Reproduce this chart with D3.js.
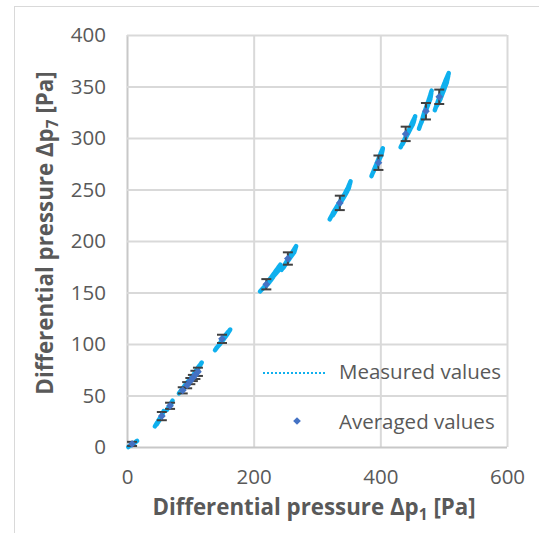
<!DOCTYPE html>
<html><head><meta charset="utf-8">
<script src="https://cdn.jsdelivr.net/npm/d3@7"></script>
<style>body{margin:0;background:#fff} text{font-family:"Open Sans",sans-serif}</style>
</head><body><svg id="c" width="539" height="533"></svg>
<script>
// ---- data ----
const xTicks = [0, 200, 400, 600];
const yTicks = [0, 50, 100, 150, 200, 250, 300, 350, 400];

// measured values (each cluster is a run of readings)
const measured0  = [[2,0],[6,2],[10,3],[14,5],[16,6],[12,4],[7,2],[4,1]];
const measured1  = [[44,20],[48,24],[52,28],[55,31],[58,35],[56,32],[51,26],[47,22]];
const measured2  = [[63,36],[66,39],[69,42],[72,45],[70,42],[66,38]];
const measured3  = [[82,52],[88,57],[94,62],[100,66],[106,71],[112,77],[118,82],[114,78],[108,72],[101,67],[95,62],[89,56],[84,53]];
const measured4  = [[139,94],[145,99],[150,104],[156,109],[163,114],[159,110],[153,105],[147,100],[141,96]];
const measured5  = [[210,151],[216,155],[222,160],[228,165],[235,171],[242,177],[240,172],[233,167],[226,161],[219,156],[213,153]];
const measured6  = [[244,172],[249,177],[254,182],[259,187],[264,192],[267,195],[264,189],[258,184],[252,179],[247,174]];
const measured7  = [[320,221],[326,228],[332,234],[338,240],[344,246],[349,252],[353,258],[350,251],[344,244],[337,237],[331,231],[325,225]];
const measured8  = [[386,263],[390,269],[394,275],[398,281],[401,286],[404,290],[402,284],[397,277],[392,271],[388,266]];
const measured9  = [[432,291],[437,297],[442,304],[447,310],[451,316],[455,321],[452,314],[446,307],[440,300],[435,294]];
const measured10 = [[461,309],[465,316],[469,324],[473,331],[477,338],[481,346],[479,338],[474,330],[469,321],[464,314]];
const measured11 = [[486,327],[490,334],[494,341],[498,348],[503,356],[508,363],[505,354],[500,346],[495,338],[489,331]];
const measuredSets = [measured0,measured1,measured2,measured3,measured4,measured5,measured6,measured7,measured8,measured9,measured10,measured11];

// averaged values with error (y)
const avgX   = [8, 55, 68, 88, 95, 100, 104, 108, 112, 150, 220, 254, 336, 397, 440, 472, 493];
const avgY   = [3, 30, 40, 55, 60, 64, 67, 70, 73, 105, 158, 183, 237, 276, 304, 326, 340];
const avgErr = [2, 4, 3, 3, 3, 3, 3, 4, 4, 4, 5, 6, 7, 7, 7, 8, 7];

const legendLabels = ["Measured values", "Averaged values"];
const xTitle = ["Differential pressure Δp", "1", " [Pa]"];
const yTitle = ["Differential pressure Δp", "7", " [Pa]"];

// ---- drawing ----
const svg = d3.select("#c");
const x = d3.scaleLinear().domain([0, 600]).range([127, 507]);
const y = d3.scaleLinear().domain([0, 400]).range([447, 35]);
const textCol = "#595959", gridCol = "#d9d9d9";
const measCol = "#0fb0ee", avgCol = "#4472c4", errCol = "#404040";

// outer chart frame
svg.append("rect").attr("x", 14.5).attr("y", 6.5).attr("width", 600).attr("height", 600)
  .attr("fill", "none").attr("stroke", gridCol).attr("stroke-width", 1);

// axes with gridlines
const gx = svg.append("g").attr("transform", `translate(0,${y(0)})`)
  .call(d3.axisBottom(x).tickValues(xTicks).tickSize(-(y(0) - y(400))).tickPadding(22).tickFormat(d3.format("d")));
const gy = svg.append("g").attr("transform", `translate(${x(0)},0)`)
  .call(d3.axisLeft(y).tickValues(yTicks).tickSize(-(x(600) - x(0))).tickPadding(21).tickFormat(d3.format("d")));
[gx, gy].forEach(g => {
  g.select(".domain").remove();
  g.selectAll(".tick line").attr("stroke", gridCol).attr("stroke-width", 2);
  g.selectAll(".tick text").attr("fill", textCol).style("font-size", "20.5px").style("font-family", '"Open Sans", sans-serif');
});
gx.selectAll(".tick").filter(d => d === 0).select("line").attr("stroke", "#c8c8c8");
gy.selectAll(".tick").filter(d => d === 0).select("line").attr("stroke", "#c8c8c8");

// measured values
const line = d3.line().x(d => x(d[0])).y(d => y(d[1]));
svg.append("g").selectAll("path").data(measuredSets).join("path")
  .attr("d", line).attr("fill", "none").attr("stroke", measCol)
  .attr("stroke-width", 4.5).attr("stroke-dasharray", "5,1").attr("stroke-linejoin", "round").attr("stroke-linecap", "round");

// averaged values: error bars
const avg = avgX.map((v, i) => ({x: v, y: avgY[i], e: avgErr[i]}));
const eb = svg.append("g").attr("stroke", errCol).attr("stroke-width", 2);
eb.selectAll("line.v").data(avg).join("line").attr("class", "v")
  .attr("x1", d => x(d.x)).attr("x2", d => x(d.x)).attr("y1", d => y(d.y - d.e)).attr("y2", d => y(d.y + d.e));
eb.selectAll("line.t").data(avg).join("line").attr("class", "t")
  .attr("x1", d => x(d.x) - 5).attr("x2", d => x(d.x) + 5).attr("y1", d => y(d.y + d.e)).attr("y2", d => y(d.y + d.e));
eb.selectAll("line.b").data(avg).join("line").attr("class", "b")
  .attr("x1", d => x(d.x) - 5).attr("x2", d => x(d.x) + 5).attr("y1", d => y(d.y - d.e)).attr("y2", d => y(d.y - d.e));

// averaged values: diamonds
const diamond = d3.symbol(d3.symbolSquare).size(30);
svg.append("g").selectAll("path").data(avg).join("path")
  .attr("d", diamond).attr("fill", avgCol)
  .attr("transform", d => `translate(${x(d.x)},${y(d.y)}) rotate(45)`);

// legend
svg.append("line").attr("x1", 263).attr("x2", 327).attr("y1", 373).attr("y2", 373)
  .attr("stroke", measCol).attr("stroke-width", 2).attr("stroke-dasharray", "2,2");
svg.append("path").attr("d", diamond).attr("fill", avgCol).attr("transform", "translate(297,421) rotate(45)");
svg.selectAll("text.leg").data(legendLabels).join("text").attr("class", "leg")
  .attr("x", 339).attr("y", (d, i) => i === 0 ? 372 : 422).attr("dy", "0.35em")
  .attr("fill", textCol).style("font-size", "20.5px").text(d => d);

// axis titles
function title(parts, tr) {
  const t = svg.append("text").attr("transform", tr).attr("text-anchor", "middle")
    .attr("fill", textCol).style("font-size", "22.3px").style("font-weight", "bold");
  t.append("tspan").text(parts[0]);
  t.append("tspan").attr("dy", 5).style("font-size", "15.5px").text(parts[1]);
  t.append("tspan").attr("dy", -5).text(parts[2]);
  return t;
}
title(xTitle, "translate(314,515)");
title(yTitle, "translate(53,233) rotate(-90)");
</script></body></html>
